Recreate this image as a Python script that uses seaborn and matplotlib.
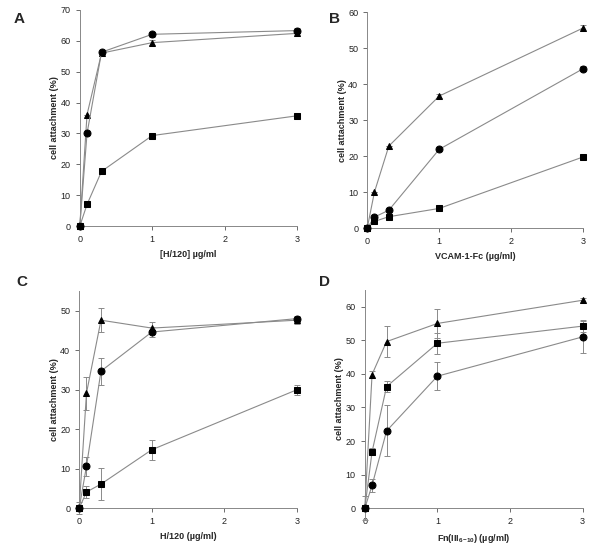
import matplotlib
matplotlib.use("Agg")
import matplotlib.pyplot as plt
import seaborn as sns
import pandas as pd

# --- Data ---
dose = [0, 0.1, 0.3, 1, 3]

a_tri = [0, 36.1, 56.0, 59.4, 62.4]
a_circ = [0, 30.0, 56.3, 62.1, 63.3]
a_sq = [0, 7.0, 17.7, 29.3, 35.7]
a_tri_err = [0, 0, 0, 0.9, 1.0]
a_circ_err = [0, 0, 0, 0.8, 0.8]
a_sq_err = [0, 0, 0, 0, 0]

b_tri = [0, 10.0, 22.8, 36.7, 55.6]
b_circ = [0, 3.1, 5.0, 21.9, 44.3]
b_sq = [0, 1.9, 3.2, 5.5, 19.8]
b_tri_err = [0, 0, 0, 0.5, 0.9]
b_circ_err = [0, 0, 0, 0, 0.7]
b_sq_err = [0, 0, 0, 0, 0]

c_tri = [0, 29.1, 47.6, 45.6, 47.6]
c_circ = [0, 10.6, 34.7, 44.6, 48.0]
c_sq = [0, 4.1, 6.1, 14.8, 30.0]
c_tri_err = [1.5, 4.2, 3.0, 1.5, 1.0]
c_circ_err = [0, 2.4, 3.4, 1.2, 0.5]
c_sq_err = [0, 1.5, 4.1, 2.5, 1.3]

d_tri = [0, 39.8, 49.6, 55.0, 61.9]
d_sq = [0, 16.8, 36.2, 49.1, 54.2]
d_circ = [0, 6.8, 23.0, 39.3, 51.0]
d_tri_err = [3.5, 0.9, 4.7, 4.2, 0.7]
d_sq_err = [0, 1.0, 1.6, 3.1, 1.7]
d_circ_err = [0, 2.0, 7.6, 4.2, 4.8]

panels = [
    ("A", "[H/120] \u00b5g/ml", 70, [(a_tri, a_tri_err, "^"), (a_circ, a_circ_err, "o"), (a_sq, a_sq_err, "s")]),
    ("B", "VCAM-1-Fc (\u00b5g/ml)", 60, [(b_tri, b_tri_err, "^"), (b_circ, b_circ_err, "o"), (b_sq, b_sq_err, "s")]),
    ("C", "H/120 (\u00b5g/ml)", 55, [(c_tri, c_tri_err, "^"), (c_circ, c_circ_err, "o"), (c_sq, c_sq_err, "s")]),
    ("D", "Fn(III$_{\\mathbf{6\\!-\\!10}}$) (\u00b5g/ml)", 65, [(d_tri, d_tri_err, "^"), (d_sq, d_sq_err, "s"), (d_circ, d_circ_err, "o")]),
]

sns.set_style("ticks")
plt.rcParams['font.family'] = ['Liberation Sans', 'DejaVu Sans']
plt.rcParams['mathtext.fontset'] = 'custom'
plt.rcParams['mathtext.bf'] = 'Liberation Sans:bold'
plt.rcParams['mathtext.rm'] = 'Liberation Sans'

fig = plt.figure(figsize=(6, 5.5), dpi=100)
boxes = [
    [0.133, 0.589, 0.362, 0.393],
    [0.612, 0.585, 0.360, 0.393],
    [0.132, 0.076, 0.363, 0.395],
    [0.608, 0.076, 0.363, 0.397],
]
letter_pos = [(0.022, 0.965), (0.548, 0.965), (0.028, 0.487), (0.532, 0.487)]

line_gray = "#8a8a8a"
for (letter, xlabel, ymax, series), box, lp in zip(panels, boxes, letter_pos):
    ax = fig.add_axes(box)
    for vals, errs, mk in series:
        df = pd.DataFrame({"dose": dose, "att": vals, "err": errs})
        ax.errorbar(df["dose"], df["att"], yerr=df["err"], fmt="none",
                    ecolor=line_gray, elinewidth=0.7, capsize=2.5, capthick=0.7,
                    clip_on=False, zorder=2)
        sns.lineplot(data=df, x="dose", y="att", ax=ax, color=line_gray,
                     linewidth=0.8, marker=mk, markersize=5,
                     markerfacecolor="black", markeredgecolor="black",
                     clip_on=False, zorder=3)
    ax.set_xlim(0, 3)
    ax.set_ylim(0, ymax)
    ax.set_xticks([0, 1, 2, 3])
    ax.set_yticks(range(0, ymax + 1, 10))
    ax.tick_params(labelsize=6.5, length=3, width=0.6, colors="#555555", labelcolor="#222222")
    for s in ["left", "bottom"]:
        ax.spines[s].set_color("#888888")
        ax.spines[s].set_linewidth(0.7)
    sns.despine(ax=ax)
    ax.set_xlabel(xlabel, fontsize=6.5, fontweight="bold", labelpad=4)
    ax.set_ylabel("cell attachment (%)", fontsize=6.5, fontweight="bold", labelpad=1)
    fig.text(lp[0], lp[1], letter, fontsize=11, fontweight="bold", va="center")

fig.savefig("out.png", dpi=100)
